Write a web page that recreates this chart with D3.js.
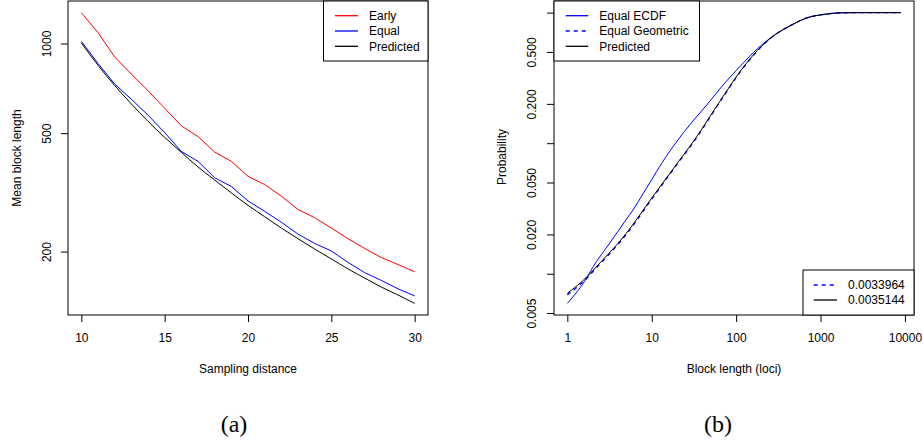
<!DOCTYPE html>
<html>
<head>
<meta charset="utf-8">
<script src="https://cdn.jsdelivr.net/npm/d3@7"></script>
<style>
  body { margin: 0; background: #fff; }
  svg { display: block; }
  text { font-family: 'Liberation Sans', Arial, sans-serif; font-size: 12px; fill: #000; }
  .cap { font-family: 'Liberation Serif', 'DejaVu Serif', serif; font-size: 24px; }
</style>
</head>
<body>
<svg width="923" height="441"></svg>
<script>
// panel (a): mean block length vs sampling distance
var distance = d3.range(10, 31)
var early = [1270, 1088, 902, 789, 694, 606, 529, 487, 432, 402, 358, 336, 307, 277, 260, 240, 221, 205, 191, 181, 171]
var equal = [1018, 857, 731, 650, 575, 502, 434, 402, 354, 331, 296, 273, 251, 229, 213, 201, 184, 170, 160, 150, 142]
var predicted = [1005, 845, 723, 627, 548, 484, 431, 385, 348, 315, 286, 262, 240, 221, 204, 189, 175, 163, 152, 143, 134]
var xTicksA = [10, 15, 20, 25, 30]
var yTicksA = [200, 500, 1000]

// panel (b): CDF of block length
var ecdfK = [1, 1.76, 2, 3, 4, 5, 6, 8, 10, 13, 20, 30, 46, 72, 114, 179, 282, 446, 703, 1107, 1746, 3000, 8900]
var ecdfP = [0.00593, 0.00967, 0.0112, 0.0163, 0.0212, 0.0261, 0.0308, 0.0416, 0.0527, 0.0695, 0.104, 0.145, 0.200, 0.285, 0.394, 0.530, 0.670, 0.799, 0.916, 0.970, 0.997, 0.9999, 1.0]
var predK = [1, 1.76, 2, 5, 10, 20, 31.8, 65, 114, 179, 282, 446, 703, 1107, 1746, 3000, 8900]
var predP = [0.00708, 0.00967, 0.01057, 0.0204, 0.038, 0.070, 0.105, 0.212, 0.361, 0.514, 0.670, 0.799, 0.916, 0.970, 0.997, 0.9999, 1.0]
var geomP = [0.00690, 0.00945, 0.01035, 0.0200, 0.0373, 0.0690, 0.1035, 0.2095, 0.358, 0.511, 0.668, 0.798, 0.915, 0.970, 0.997, 0.9999, 1.0]
var xTicksB = [1, 10, 100, 1000, 10000]
var yTicksB = [0.005, 0.01, 0.02, 0.05, 0.1, 0.2, 0.5, 1]
var yLabelsB = { 0.005: '0.005', 0.02: '0.020', 0.05: '0.050', 0.2: '0.200', 0.5: '0.500' }

var svg = d3.select('svg')

// R-style 4% range extension
function pad(lo, hi) {
  var d = (hi - lo) * 0.04
  return [lo - d, hi + d]
}
function padLog(lo, hi) {
  var p = pad(Math.log10(lo), Math.log10(hi))
  return [Math.pow(10, p[0]), Math.pow(10, p[1])]
}

var plotTop = 1, plotBottom = 315

function drawAxes(g, x, y, xt, yt, ylab, ylabOffset) {
  var ax = g.append('g')
      .attr('transform', 'translate(0,' + plotBottom + ')')
      .call(d3.axisBottom(x).tickValues(xt).tickSize(7).tickPadding(11).tickFormat(d3.format('d')))
  ax.select('.domain').remove()
  ax.selectAll('text').style('font-size', '12px').style('font-family', 'Liberation Sans, Arial, sans-serif')

  var ay = g.append('g')
      .attr('transform', 'translate(' + x.range()[0] + ',0)')
      .call(d3.axisLeft(y).tickValues(yt).tickSize(7).tickFormat(ylab))
  ay.select('.domain').remove()
  ay.selectAll('text')
      .attr('x', null).attr('dy', null)
      .attr('text-anchor', 'middle')
      .attr('transform', 'translate(' + ylabOffset + ',0) rotate(-90)')
      .style('font-size', '12px').style('font-family', 'Liberation Sans, Arial, sans-serif')

  g.append('rect')
      .attr('x', x.range()[0]).attr('y', plotTop)
      .attr('width', x.range()[1] - x.range()[0]).attr('height', plotBottom - plotTop)
      .attr('fill', 'none').attr('stroke', '#000').attr('stroke-width', 1)
}

function legend(g, x0, y0, w, h, items, lx, tx, rows) {
  g.append('rect').attr('x', x0).attr('y', y0).attr('width', w).attr('height', h)
      .attr('fill', '#fff').attr('stroke', '#000').attr('stroke-width', 1)
  items.forEach(function(it, i) {
    g.append('line').attr('x1', lx[0]).attr('x2', lx[1]).attr('y1', rows[i]).attr('y2', rows[i])
        .attr('stroke', it.color).attr('stroke-width', 1.3)
        .attr('stroke-dasharray', it.dash || null)
    g.append('text').attr('x', tx).attr('y', rows[i]).attr('dy', '0.35em').text(it.label)
  })
}

// ---- panel (a)
var xA = d3.scaleLinear().domain(pad(10, 30)).range([68, 428])
var allA = early.concat(equal, predicted)
var yA = d3.scaleLog().domain(padLog(d3.min(allA), d3.max(allA))).range([plotBottom, plotTop])
var gA = svg.append('g')

var lineA = function(vals, smooth) {
  return d3.line().curve(smooth ? d3.curveMonotoneX : d3.curveLinear)
    .x(function(d, i) { return xA(distance[i]) }).y(function(d) { return yA(d) })(vals)
}
gA.append('path').attr('d', lineA(predicted, true)).attr('fill', 'none').attr('stroke', '#000').attr('stroke-width', 1)
gA.append('path').attr('d', lineA(equal)).attr('fill', 'none').attr('stroke', '#0000ff').attr('stroke-width', 1)
gA.append('path').attr('d', lineA(early)).attr('fill', 'none').attr('stroke', '#ff0000').attr('stroke-width', 1)

drawAxes(gA, xA, yA, xTicksA, yTicksA, d3.format('d'), -17)

gA.append('text').attr('x', 248).attr('y', 373).attr('text-anchor', 'middle').text('Sampling distance')
gA.append('text').attr('transform', 'translate(21,158) rotate(-90)').attr('text-anchor', 'middle').text('Mean block length')

legend(gA, 323.5, plotTop, 104.5, 60,
  [{ label: 'Early', color: '#ff0000' }, { label: 'Equal', color: '#0000ff' }, { label: 'Predicted', color: '#000' }],
  [335, 358], 369, [15.7, 31, 46.3])

gA.append('text').attr('class', 'cap').attr('x', 234).attr('y', 432).attr('text-anchor', 'middle').text('(a)')

// ---- panel (b)
var xB = d3.scaleLog().domain(padLog(1, d3.max(ecdfK))).range([554, 914])
var yB = d3.scaleLog().domain(padLog(d3.min(ecdfP.concat(predP)), 1)).range([plotBottom, plotTop])
var gB = svg.append('g')

var lineB = function(ks, ps) {
  return d3.line().curve(d3.curveMonotoneX).x(function(d, i) { return xB(ks[i]) }).y(function(d) { return yB(d) })(ps)
}
gB.append('path').attr('d', lineB(ecdfK, ecdfP)).attr('fill', 'none').attr('stroke', '#0000ff').attr('stroke-width', 1)
gB.append('path').attr('d', lineB(predK, geomP)).attr('fill', 'none').attr('stroke', '#0000ff').attr('stroke-width', 1.3).attr('stroke-dasharray', '4,4')
gB.append('path').attr('d', lineB(predK, predP)).attr('fill', 'none').attr('stroke', '#000').attr('stroke-width', 1)

drawAxes(gB, xB, yB, xTicksB, yTicksB, function(d) { return yLabelsB[d] || '' }, -18)

gB.append('text').attr('x', 734).attr('y', 373).attr('text-anchor', 'middle').text('Block length (loci)')
gB.append('text').attr('transform', 'translate(506,157) rotate(-90)').attr('text-anchor', 'middle').text('Probability')

legend(gB, 554, plotTop, 145.5, 60,
  [{ label: 'Equal ECDF', color: '#0000ff' }, { label: 'Equal Geometric', color: '#0000ff', dash: '4,4' }, { label: 'Predicted', color: '#000' }],
  [565.7, 588.3], 599.3, [15.7, 31, 46.3])

legend(gB, 803, 270, 111, 45,
  [{ label: '0.0033964', color: '#0000ff', dash: '4,4' }, { label: '0.0035144', color: '#000' }],
  [813.7, 837], 848, [285, 300])

gB.append('text').attr('class', 'cap').attr('x', 718).attr('y', 432).attr('text-anchor', 'middle').text('(b)')
</script>
</body>
</html>
